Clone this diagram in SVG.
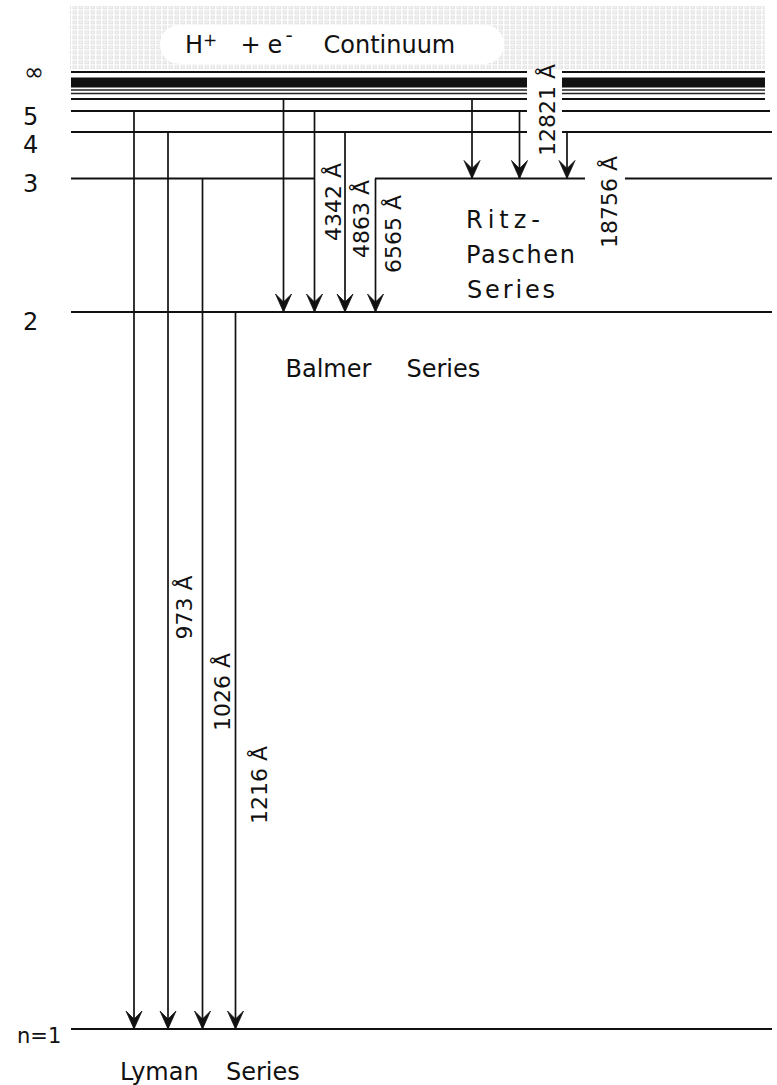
<svg xmlns="http://www.w3.org/2000/svg" width="777" height="1085" viewBox="0 0 777 1085">
<style>
  text { font-family: "DejaVu Sans", Verdana, sans-serif; fill: #111; }
  .lbl { font-size: 24px; }
  .wl { font-size: 22px; }
  .lvl { stroke: #111; stroke-width: 2; fill: none; }
  .thin { stroke: #222; stroke-width: 1.4; fill: none; }
  .tr { stroke: #111; stroke-width: 1.7; fill: none; marker-end: url(#ah); }
</style>
<defs>
  <pattern id="tex" width="6" height="5" patternUnits="userSpaceOnUse">
    <rect width="6" height="5" fill="#fff"/>
    <rect x="0.5" y="0.5" width="4.5" height="3.8" fill="#e4e4e4"/>
    <rect x="1.6" y="1.5" width="2.2" height="1.6" fill="#f5f5f5"/>
  </pattern>
  <marker id="ah" viewBox="-20 -10 21 20" refX="0" refY="0" markerWidth="21" markerHeight="20" markerUnits="userSpaceOnUse" orient="auto">
    <path d="M0,0 L-18,-8 L-10,0 L-18,8 Z" fill="#111" stroke="#111" stroke-width="0.8" stroke-linejoin="round"/>
  </marker>
</defs>
<rect width="777" height="1085" fill="#fff"/>

<g id="continuum">
  <rect x="70" y="6" width="695" height="63" fill="url(#tex)"/>
  <rect x="160" y="25" width="344" height="39" rx="19.5" fill="#fff"/>
  <text class="lbl" y="53"><tspan x="185">H</tspan><tspan x="203" y="46" font-size="17">+</tspan><tspan x="240.5" y="53">+</tspan><tspan x="267.5">e</tspan><tspan x="285.5" y="42" font-size="20">-</tspan><tspan x="323.5" y="53">Continuum</tspan></text>
</g>

<g id="level-inf">
  <path class="lvl" d="M71,72 H527 M562,72 H765"/>
  <rect x="71" y="77.5" width="456" height="10" fill="#111"/>
  <rect x="562" y="77.5" width="203" height="10" fill="#111"/>
  <path class="thin" d="M71,90 H527 M562,90 H765 M71,93.5 H527 M562,93.5 H765"/>
  <text class="lbl" x="24" y="80">∞</text>
</g>
<g id="level-6">
  <path class="lvl" d="M71,99 H527 M562,99 H765" stroke-width="1.8"/>
</g>
<g id="level-5">
  <path class="lvl" d="M71,111 H527 M562,111 H770"/>
  <text class="lbl" x="23" y="125">5</text>
</g>
<g id="level-4">
  <path class="lvl" d="M71,132 H527 M562,132 H772"/>
  <text class="lbl" x="23" y="153">4</text>
</g>
<g id="level-3">
  <path class="lvl" d="M71,178.5 H315 M375,178.5 H585 M625,178.5 H772"/>
  <text class="lbl" x="23" y="192">3</text>
</g>
<g id="level-2">
  <path class="lvl" d="M71,312 H772"/>
  <text class="lbl" x="23" y="330">2</text>
</g>
<g id="level-1">
  <path class="lvl" d="M71,1029 H772"/>
  <text x="17" y="1043" font-size="21">n=1</text>
</g>

<g id="transitions">
  <!-- Lyman -->
  <line class="tr" x1="134" y1="111" x2="134" y2="1029"/>
  <line class="tr" x1="168" y1="132" x2="168" y2="1029"/>
  <line class="tr" x1="202.5" y1="178.5" x2="202.5" y2="1029"/>
  <line class="tr" x1="235.5" y1="312" x2="235.5" y2="1029"/>
  <!-- Balmer -->
  <line class="tr" x1="283.5" y1="99" x2="283.5" y2="312"/>
  <line class="tr" x1="314.5" y1="111" x2="314.5" y2="312"/>
  <line class="tr" x1="345" y1="132" x2="345" y2="312"/>
  <line class="tr" x1="375.5" y1="178.5" x2="375.5" y2="312"/>
  <!-- Ritz-Paschen -->
  <line class="tr" x1="472" y1="99" x2="472" y2="178.5"/>
  <line class="tr" x1="519.5" y1="111" x2="519.5" y2="178.5"/>
  <line class="tr" x1="567" y1="132" x2="567" y2="178.5"/>
</g>

<g id="wavelengths">
  <text class="wl" transform="translate(192,639.5) rotate(-90)">973 Å</text>
  <text class="wl" transform="translate(230,731) rotate(-90)">1026 Å</text>
  <text class="wl" transform="translate(267,824) rotate(-90)">1216 Å</text>
  <text class="wl" transform="translate(341,241) rotate(-90)">4342 Å</text>
  <text class="wl" transform="translate(369,258) rotate(-90)">4863 Å</text>
  <text class="wl" transform="translate(401,273) rotate(-90)">6565 Å</text>
  <text class="wl" transform="translate(555,156) rotate(-90)" font-size="21">12821 Å</text>
  <text class="wl" transform="translate(617,248) rotate(-90)">18756 Å</text>
</g>

<g id="series-labels">
  <text class="lbl" x="466" y="228" textLength="74" lengthAdjust="spacing">Ritz-</text>
  <text class="lbl" x="466" y="263" textLength="109" lengthAdjust="spacing">Paschen</text>
  <text class="lbl" x="467" y="298" textLength="88" lengthAdjust="spacing">Series</text>
  <text class="lbl" x="285.5" y="377">Balmer</text>
  <text class="lbl" x="406.5" y="377">Series</text>
  <text class="lbl" x="120" y="1080">Lyman</text>
  <text class="lbl" x="226" y="1080">Series</text>
</g>
</svg>
